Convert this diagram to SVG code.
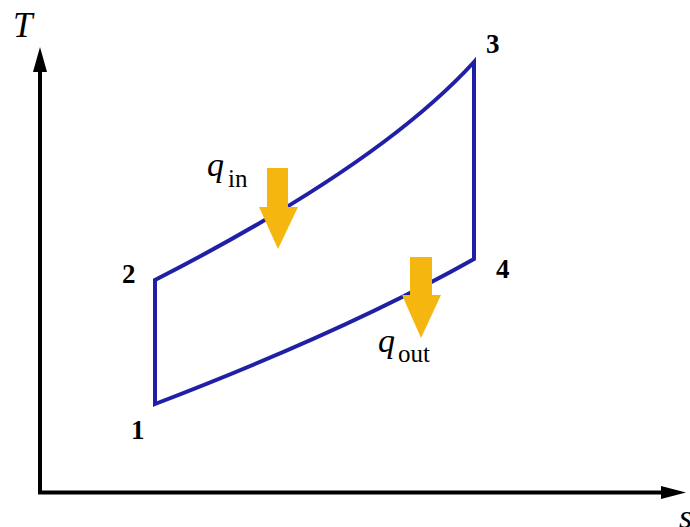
<svg xmlns="http://www.w3.org/2000/svg" width="690" height="527" viewBox="0 0 690 527">
<style>
.axis{stroke:#000;stroke-width:4;fill:none}
.cyc{stroke:#2020a6;stroke-width:4;fill:none;stroke-linejoin:miter}
.num{font-family:"Liberation Serif",serif;font-weight:bold;font-size:27px;fill:#000}
.var{font-family:"Liberation Serif",serif;font-style:italic;fill:#000}
.sub{font-family:"Liberation Serif",serif;fill:#000}
.heat{fill:#f5b70f}
</style>
<rect width="690" height="527" fill="#fff"/>
<g id="axes">
<line class="axis" x1="40" y1="493" x2="40" y2="66"/>
<polygon points="40,47 33,72 47,72" fill="#000"/>
<line class="axis" x1="38" y1="492.5" x2="666" y2="492.5"/>
<polygon points="686,492.5 661,486 661,499" fill="#000"/>
<text class="var" x="13" y="37" font-size="35">T</text>
<text class="var" x="679" y="528" font-size="34">s</text>
</g>
<g id="connectors">
<path class="cyc" d="M155,404 L155,280 Q380,165 474,62 L474,259 Q348,330 155,404 Z"/>
</g>
<g id="qin">
<polygon class="heat" points="267,168 288,168 288,207 298,207 278,249 259,207 267,207"/>
<text class="var" x="207" y="176" font-size="34">q</text>
<text class="sub" x="228" y="187" font-size="25">in</text>
</g>
<g id="qout">
<polygon class="heat" points="410,257 432,257 432,295 441,295 421,338 402,295 410,295"/>
<text class="var" x="378" y="352" font-size="34">q</text>
<text class="sub" x="398" y="362" font-size="25">out</text>
</g>
<g id="p1"><text class="num" x="131" y="439">1</text></g>
<g id="p2"><text class="num" x="122" y="283">2</text></g>
<g id="p3"><text class="num" x="486" y="53">3</text></g>
<g id="p4"><text class="num" x="496" y="278">4</text></g>
</svg>
